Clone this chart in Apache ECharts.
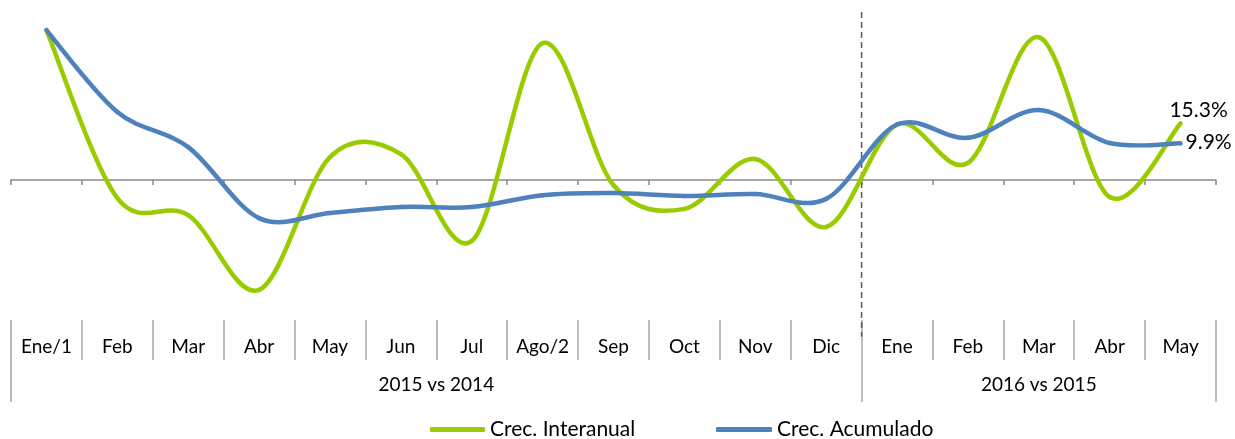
<!DOCTYPE html>
<html>
<head>
<meta charset="utf-8">
<script src="https://cdn.jsdelivr.net/npm/echarts@6/dist/echarts.min.js"></script>
<style>
  html, body { margin: 0; padding: 0; background: #ffffff; }
  #chart { width: 1235px; height: 439px; }
</style>
</head>
<body>
<div id="chart"></div>
<script>
// ---- data ----
const categories = ['Ene/1','Feb','Mar','Abr','May','Jun','Jul','Ago/2','Sep','Oct','Nov','Dic','Ene','Feb','Mar','Abr','May'];
const groupNames = ['2015 vs 2014', '2016 vs 2015'];
const groupBounds = [0, 12, 17];
const seriesInteranual = [40.5, -4.9, -9.5, -29.7, 6.2, 7.0, -16.5, 37.0, -1.4, -7.8, 5.7, -12.7, 15.0, 4.6, 38.6, -4.6, 15.3];
const seriesAcumulado  = [40.5, 18.4, 8.9, -10.3, -8.9, -7.3, -7.3, -4.1, -3.5, -4.3, -3.8, -5.1, 15.0, 11.4, 18.9, 10.0, 9.9];
const dividerSpan = [45.4, -42.4];   // top / bottom value of the dashed separator

const FONT = 'Lato';
const GREEN = '#99CC00';
const BLUE = '#4F81BD';
const chart = echarts.init(document.getElementById('chart'), null, { renderer: 'canvas' });

const groupCenters = [ (groupBounds[0] + groupBounds[1]) / 2, (groupBounds[1] + groupBounds[2]) / 2 ];

// Smoothed line (Catmull-Rom style, like spreadsheet smoothing) built from axis coordinates
function curveSeries(name, values, color, z, labelDx, labelDy, labelAlign) {
  const n = values.length;
  return {
    name: name, type: 'custom', coordinateSystem: 'cartesian2d', xAxisIndex: 0, yAxisIndex: 0,
    z: z, clip: false, silent: true,
    itemStyle: { color: color },
    encode: { x: 0, y: 1 },
    data: values.map(function (v, i) { return [i, v]; }),
    renderItem: function (params, api) {
      const i = params.dataIndex;
      const P = function (k) {
        k = Math.max(0, Math.min(n - 1, k));
        return api.coord([k, values[k]]);
      };
      if (i === n - 1) {
        const p = P(i);
        return {
          type: 'text', x: p[0] + labelDx, y: p[1] + labelDy, z2: 10,
          style: {
            text: values[i].toFixed(1) + '%', fill: '#000',
            fontFamily: FONT, fontSize: 21, align: labelAlign, verticalAlign: 'middle'
          }
        };
      }
      const p0 = P(i - 1), p1 = P(i), p2 = P(i + 1), p3 = P(i + 2);
      return {
        type: 'bezierCurve',
        shape: {
          x1: p1[0], y1: p1[1],
          cpx1: p1[0] + (p2[0] - p0[0]) / 6, cpy1: p1[1] + (p2[1] - p0[1]) / 6,
          cpx2: p2[0] - (p3[0] - p1[0]) / 6, cpy2: p2[1] - (p3[1] - p1[1]) / 6,
          x2: p2[0], y2: p2[1]
        },
        style: { fill: null, stroke: color, lineWidth: 4.5, lineCap: 'round', lineJoin: 'round' }
      };
    }
  };
}

const option = {
  animation: false,
  backgroundColor: '#ffffff',
  textStyle: { fontFamily: FONT },
  grid: { left: 11, right: 19, top: 10, bottom: 119, outerBoundsMode: 'none', containLabel: false },
  legend: [
    {
      data: ['Crec. Interanual'], left: 430, top: 419, padding: 0,
      icon: 'roundRect', itemWidth: 55, itemHeight: 5,
      itemStyle: { color: GREEN },
      textStyle: { fontFamily: FONT, fontSize: 21, color: '#000' }
    },
    {
      data: ['Crec. Acumulado'], left: 716, top: 419, padding: 0,
      icon: 'roundRect', itemWidth: 56, itemHeight: 5,
      itemStyle: { color: BLUE },
      textStyle: { fontFamily: FONT, fontSize: 21, color: '#000' }
    }
  ],
  xAxis: [
    {
      type: 'category', data: categories, position: 'bottom', boundaryGap: true,
      axisLine: { show: true, onZero: true, lineStyle: { color: '#898989', width: 1.5 } },
      axisTick: { show: true, interval: 0, length: 5, lineStyle: { color: '#898989', width: 1.5 } },
      axisLabel: { show: false },
      splitLine: { show: false }
    },
    {
      type: 'category', data: categories, position: 'bottom', boundaryGap: true,
      axisLine: { show: false, onZero: false },
      axisTick: { show: true, interval: 0, length: 40, lineStyle: { color: '#A6A6A6', width: 1.5 } },
      axisLabel: { show: true, interval: 0, margin: 17, fontFamily: FONT, fontSize: 19, color: '#000' },
      splitLine: { show: false }
    },
    {
      type: 'value', min: groupBounds[0], max: groupBounds[2], position: 'bottom',
      axisLine: { show: false, onZero: false },
      axisTick: { show: true, customValues: groupBounds, length: 82, lineStyle: { color: '#A6A6A6', width: 1.5 } },
      axisLabel: {
        show: true, customValues: groupCenters, margin: 55, fontFamily: FONT, fontSize: 19, color: '#000',
        formatter: function (v) { const i = groupCenters.indexOf(v); return i >= 0 ? groupNames[i] : ''; }
      },
      splitLine: { show: false }
    }
  ],
  yAxis: {
    type: 'value', min: -37.84, max: 45.95, show: false,
    splitLine: { show: false }
  },
  series: [
    {
      name: 'divider', type: 'line', xAxisIndex: 2, clip: false, silent: true,
      data: [[groupBounds[1], dividerSpan[0]], [groupBounds[1], dividerSpan[1]]],
      symbol: 'none', z: 1,
      lineStyle: { color: '#595959', type: [6, 4], width: 1.5 }
    },
    curveSeries('Crec. Interanual', seriesInteranual, GREEN, 2, 18, -13, 'center'),
    curveSeries('Crec. Acumulado', seriesAcumulado, BLUE, 3, 5, -1, 'left')
  ]
};
chart.setOption(option);
</script>
</body>
</html>
